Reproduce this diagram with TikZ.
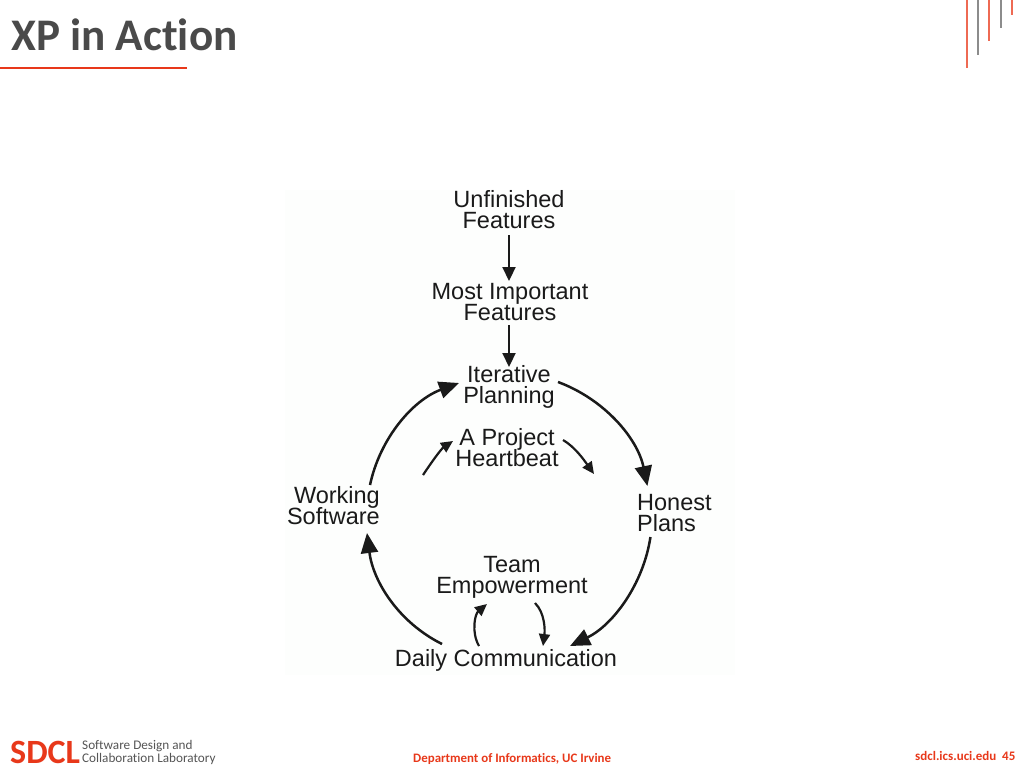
\documentclass[tikz,border=0pt]{standalone}
\usepackage{fontspec}
\setmainfont{Liberation Sans}
\newfontfamily\calfont[Ligatures=CommonOff]{Carlito}
\usetikzlibrary{arrows.meta}
\lineskiplimit=-30pt
\definecolor{ink}{HTML}{1A1A1A}
\definecolor{titlegray}{HTML}{4A4A4A}
\definecolor{sdred}{HTML}{E8381A}
\definecolor{footgray}{HTML}{555555}
\definecolor{panelbg}{HTML}{FDFEFD}
\tikzset{
  lbl/.style={font=\fontsize{23.5}{21}\selectfont, text=ink, inner sep=0pt, align=center},
  lbll/.style={lbl, align=left, anchor=west},
  lblr/.style={lbl, align=right, anchor=east},
  bigarrow/.style={draw=ink, line width=2.5pt, -{Triangle[length=20pt,width=17pt]}},
  midarrow/.style={draw=ink, line width=2.2pt, -{Triangle[length=14pt,width=13pt]}},
  smallarrow/.style={draw=ink, line width=2.2pt, -{Triangle[length=12pt,width=11pt]}},
  foot/.style={inner sep=0pt, anchor=base west},
  tickr/.style={draw=sdred!75!white, line width=1.1pt},
  tickg/.style={draw=black!45, line width=1.1pt},
}
\begin{document}
\begin{tikzpicture}[x=1pt,y=-1pt]
\useasboundingbox (0,0) rectangle (1024,768);
\fill[white] (0,0) rectangle (1024,768);
\fill[panelbg] (285,190) rectangle (735,675);
% header
\node[foot, font=\calfont\bfseries\fontsize{45.2}{45.2}\selectfont, text=titlegray] (title) at (11,50) {XP in Action};
\coordinate (ruleL) at (0,68);
\coordinate (ruleR) at (187,68);
\draw[draw=sdred, line width=1.6pt] (ruleL) -- (ruleR);
\draw[tickr] (967,0) -- (967,68);
\draw[tickg] (978,0) -- (978,55);
\draw[tickr] (989,0) -- (989,41);
\draw[tickg] (1001,0) -- (1001,28);
\draw[tickr] (1012,0) -- (1012,15);
% nodes
\node[lbl] (unf) at (509,210) {Unfinished\\Features};
\node[lbl] (most) at (510,302) {Most Important\\Features};
\node[lbl] (iter) at (509,387) {Iterative\\Planning};
\node[lbl] (heart) at (507,448) {A Project\\Heartbeat};
\node[lbll] (honest) at (637,513) {Honest\\Plans};
\node[lblr] (work) at (380,506) {Working\\Software};
\node[lbl] (team) at (512,577) {Team\\Empowerment};
\node[lbl] (daily) at (506,660) {Daily Communication};
% straight arrows
\draw[midarrow] ([shift={(0,25)}]unf.center) -- ([shift={(-1,-21)}]most.center);
\draw[midarrow] ([shift={(-1,23)}]most.center) -- ([shift={(0,-20)}]iter.center);
% outer cycle
\draw[bigarrow] ([shift={(49,-5)}]iter.center) .. controls +(46,17) and +(-10,-48) .. ([shift={(-27,-27)}]honest.center);
\draw[bigarrow] ([shift={(-24,24)}]honest.center) .. controls +(-7,47) and +(43,-21) .. ([shift={(64,-14)}]daily.center);
\draw[bigarrow] ([shift={(-64,-16)}]daily.center) .. controls +(-44,-22) and +(6,48) .. ([shift={(-13,27)}]work.east);
\draw[bigarrow] ([shift={(-10,-21)}]work.east) .. controls +(10,-47) and +(-46,17) .. ([shift={(-50,-4)}]iter.center);
% inner arrows
\draw[smallarrow] ([shift={(56,-8)}]heart.center) .. controls +(12,7) and +(-10,-14) .. ([shift={(87,26)}]heart.center);
\draw[smallarrow] ([shift={(-84,27)}]heart.center) .. controls +(8,-12) and +(-12,8) .. ([shift={(-54,-7)}]heart.center);
\draw[smallarrow] ([shift={(23,26)}]team.center) .. controls +(10,10) and +(2,-16) .. ([shift={(31,69)}]team.center);
\draw[smallarrow] ([shift={(-33,69)}]team.center) .. controls +(-8,-14) and +(-12,10) .. ([shift={(-25,27)}]team.center);
% footer
\node[foot, font=\calfont\bfseries\fontsize{34}{34}\selectfont, text=sdred] (sdcl) at (10,763) {SDCL};
\node[foot, font=\calfont\fontsize{13.2}{13.2}\selectfont, text=footgray] (sd1) at (82,749) {Software Design and};
\node[foot, font=\calfont\fontsize{13.2}{13.2}\selectfont, text=footgray] (sd2) at (82,762) {Collaboration Laboratory};
\node[foot, font=\calfont\bfseries\fontsize{12.9}{12.9}\selectfont, text=sdred] (dept) at (413,762) {Department of Informatics, UC Irvine};
\node[foot, font=\calfont\bfseries\fontsize{13}{13}\selectfont, text=sdred] (site) at (915,760) {sdcl.ics.uci.edu\ \ 45};
\end{tikzpicture}
\end{document}
